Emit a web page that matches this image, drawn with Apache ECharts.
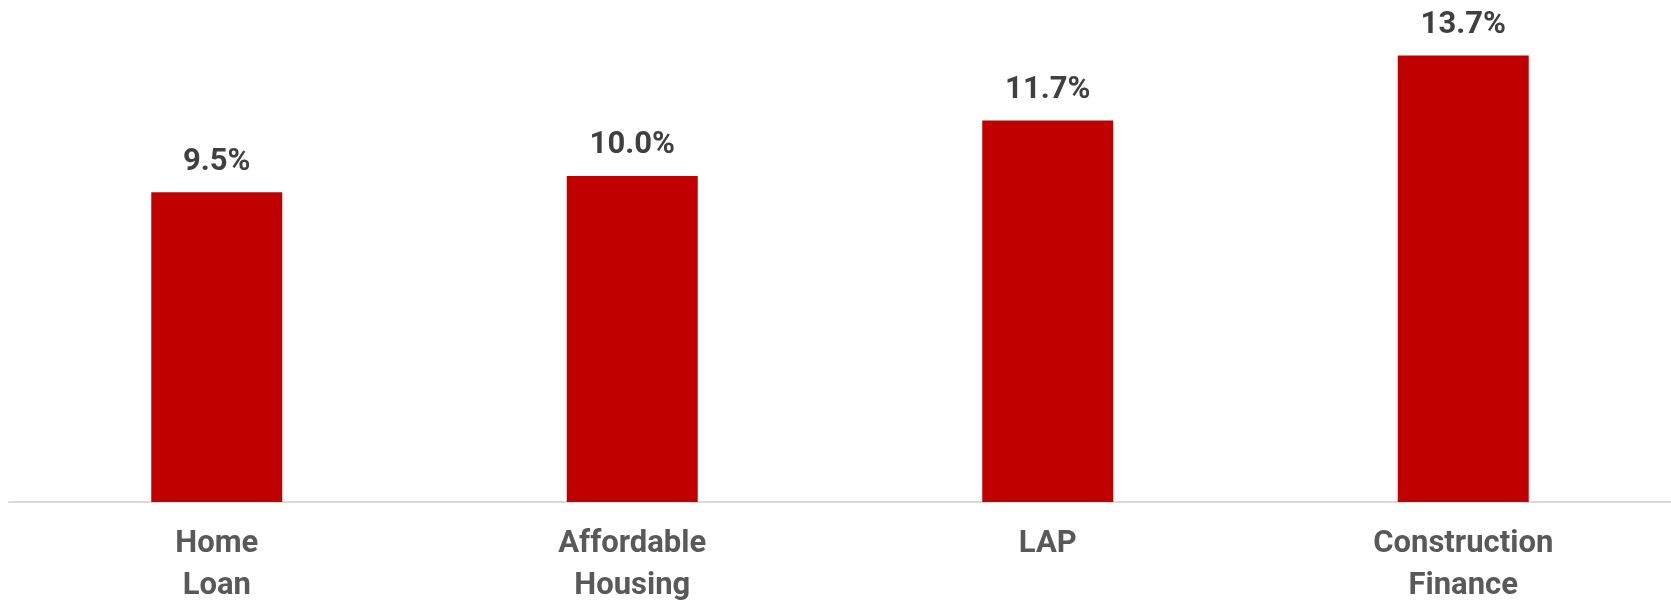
<!DOCTYPE html>
<html>
<head>
<meta charset="utf-8">
<script src="https://cdn.jsdelivr.net/npm/echarts@6/dist/echarts.min.js"></script>
<style>
  html, body { margin: 0; padding: 0; background: #fff; }
  #chart { width: 1671px; height: 602px; }
</style>
</head>
<body>
<div id="chart"></div>
<script>
const categories = ['Home\nLoan', 'Affordable\nHousing', 'LAP', 'Construction\nFinance']
const growth = [9.5, 10.0, 11.7, 13.7]

const font = 'Roboto, sans-serif'

const chart = echarts.init(document.getElementById('chart'))

chart.setOption({
  backgroundColor: '#fff',
  animation: false,
  // keep the plot area fixed, labels may sit near the bottom edge
  grid: { top: 13, bottom: 100, left: 9, right: 0, containLabel: false, outerBoundsMode: 'none' },
  xAxis: {
    type: 'category',
    data: categories,
    axisLine: { lineStyle: { color: '#d9d9d9', width: 2 } },
    axisTick: { show: false },
    axisLabel: {
      color: '#595959',
      fontFamily: font,
      fontWeight: 'bold',
      fontSize: 31,
      lineHeight: 42,
      margin: 21,
      interval: 0
    }
  },
  yAxis: {
    type: 'value',
    min: 0,
    max: 15,
    show: false,
    splitLine: { show: false }
  },
  series: [{
    type: 'bar',
    data: growth,
    barWidth: 131,
    itemStyle: { color: '#c00000' },
    label: {
      show: true,
      position: 'top',
      distance: 15,
      color: '#404040',
      fontFamily: font,
      fontWeight: 'bold',
      fontSize: 31,
      formatter: p => p.value.toFixed(1) + '%'
    }
  }]
})
</script>
</body>
</html>
